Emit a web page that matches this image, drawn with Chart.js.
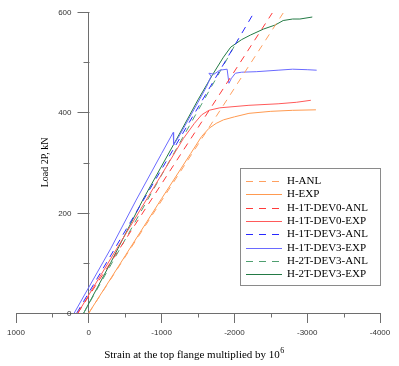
<!DOCTYPE html>
<html>
<head>
<meta charset="utf-8">
<script src="https://cdn.jsdelivr.net/npm/chart.js@4"></script>
<style>
  html, body { margin: 0; padding: 0; background: #fff; }
  #chart { display: block; }
</style>
</head>
<body>
<canvas id="chart" width="399" height="366"></canvas>
<script>
// axis ticks
const xTicks = [1000, 0, -1000, -2000, -3000, -4000];
const xMinorTicks = [500, -500, -1500, -2500, -3500];
const yTicks = [0, 200, 400, 600];
const yMinorTicks = [100, 300, 500];

// series: strain (x 10^-6) and load (kN)
const hAnlStrain = [0, -2670];
const hAnlLoad = [0, 598];

const hExpStrain = [0, -500, -1000, -1400, -1550, -1650, -1750, -1850, -2000, -2200, -2500, -2800, -3120];
const hExpLoad = [0, 114, 228, 318, 352, 368, 378, 385, 391, 398, 402, 404, 405];

const dev0AnlStrain = [150, -2520];
const dev0AnlLoad = [0, 598];

const dev0ExpStrain = [150, -300, -800, -1300, -1450, -1550, -1650, -1800, -2200, -2600, -2850, -3050];
const dev0ExpLoad = [0, 108, 228, 348, 378, 395, 404, 409, 414, 417, 420, 424];

const dev3AnlStrain = [165, -2274];
const dev3AnlLoad = [0, 600];

const dev3ExpStrain = [200, -300, -650, -1000, -1160, -1165, -1250, -1500, -1620, -1680, -1650, -1720, -1800, -1900, -1925, -1960, -2014, -2100, -2300, -2600, -2800, -3000, -3130];
const dev3ExpLoad = [0, 128, 225, 318, 360, 335, 355, 420, 452, 472, 478, 476, 484, 486, 458, 468, 478, 480, 481, 484, 486, 485, 484];

const dev3tAnlStrain = [70, -2050];
const dev3tAnlLoad = [0, 545];

const dev3tExpStrain = [70, -300, -740, -1200, -1500, -1700, -1850, -1950, -2100, -2220, -2400, -2560, -2670, -2800, -2900, -3070];
const dev3tExpLoad = [0, 100, 225, 345, 425, 475, 510, 530, 545, 554, 566, 574, 583, 586, 586, 590];

const labels = ['H-ANL', 'H-EXP', 'H-1T-DEV0-ANL', 'H-1T-DEV0-EXP', 'H-1T-DEV3-ANL', 'H-1T-DEV3-EXP', 'H-2T-DEV3-ANL', 'H-2T-DEV3-EXP'];
const colors = ['#ffa060', '#ff9a50', '#ff3a3a', '#ff5a5a', '#2828ff', '#6a6aff', '#4f9f70', '#237a45'];

const axisColor = '#6e6e6e';
const serif = "'Liberation Serif', 'Times New Roman', serif";
const sans = "'Liberation Sans', Arial, sans-serif";

function pts(xs, ys) {
    return xs.map((v, i) => ({ x: v, y: ys[i] }));
}

const series = [
    [hAnlStrain, hAnlLoad, true],
    [hExpStrain, hExpLoad, false],
    [dev0AnlStrain, dev0AnlLoad, true],
    [dev0ExpStrain, dev0ExpLoad, false],
    [dev3AnlStrain, dev3AnlLoad, true],
    [dev3ExpStrain, dev3ExpLoad, false],
    [dev3tAnlStrain, dev3tAnlLoad, true],
    [dev3tExpStrain, dev3tExpLoad, false]
];

const datasets = series.map((s, i) => ({
    label: labels[i],
    data: pts(s[0], s[1]),
    borderColor: colors[i],
    borderWidth: 1,
    borderDash: s[2] ? [7, 6] : [],
    pointRadius: 0,
    fill: false,
    tension: 0
}));

// y axis ticks/labels/title, x minor ticks + title, legend box
const extras = {
    id: 'extras',
    afterDraw(chart) {
        const ctx = chart.ctx;
        const xs = chart.scales.x, ys = chart.scales.y;
        const x0 = Math.round(xs.getPixelForValue(0)) + 0.5;
        const y0 = Math.round(ys.getPixelForValue(0)) + 0.5;
        ctx.save();
        ctx.strokeStyle = axisColor;
        ctx.lineWidth = 1;
        xMinorTicks.forEach(v => {
            const px = Math.round(xs.getPixelForValue(v)) + 0.5;
            ctx.beginPath();
            ctx.moveTo(px, y0);
            ctx.lineTo(px, y0 + 4);
            ctx.stroke();
        });
        yMinorTicks.forEach(v => {
            const py = Math.round(ys.getPixelForValue(v)) + 0.5;
            ctx.beginPath();
            ctx.moveTo(x0, py);
            ctx.lineTo(x0 - 6, py);
            ctx.stroke();
        });
        ctx.font = '8px ' + sans;
        ctx.fillStyle = '#333';
        ctx.textAlign = 'right';
        ctx.textBaseline = 'middle';
        yTicks.forEach(v => {
            const py = Math.round(ys.getPixelForValue(v)) + 0.5;
            ctx.beginPath();
            ctx.moveTo(x0, py);
            ctx.lineTo(x0 - 12, py);
            ctx.stroke();
            ctx.fillText(String(v), x0 - 18, py);
        });

        // y title
        ctx.save();
        ctx.translate(45, (ys.top + ys.bottom) / 2);
        ctx.rotate(-Math.PI / 2);
        ctx.font = '10px ' + serif;
        ctx.fillStyle = '#000';
        ctx.textAlign = 'center';
        ctx.fillText('Load 2P, kN', 0, 0);
        ctx.restore();

        // x title with superscript exponent
        const base = 'Strain at the top flange multiplied by 10';
        const sup = '6';
        ctx.font = '11px ' + serif;
        const bw = ctx.measureText(base).width;
        ctx.font = '8px ' + serif;
        const sw = ctx.measureText(sup).width;
        const tx = (xs.left + xs.right) / 2 - 4 - (bw + sw) / 2;
        ctx.textAlign = 'left';
        ctx.textBaseline = 'alphabetic';
        ctx.fillStyle = '#000';
        ctx.font = '11px ' + serif;
        ctx.fillText(base, tx, 358);
        ctx.font = '8px ' + serif;
        ctx.fillText(sup, tx + bw + 0.5, 353);

        // legend
        const lx = 240.5, ly = 168.5, lw = 140, lh = 117;
        ctx.fillStyle = '#fff';
        ctx.fillRect(lx, ly, lw, lh);
        ctx.strokeStyle = '#8a8a8a';
        ctx.strokeRect(lx, ly, lw, lh);
        ctx.font = '11px ' + serif;
        ctx.textBaseline = 'middle';
        ctx.textAlign = 'left';
        chart.data.datasets.forEach((ds, i) => {
            const y = Math.round(181 + i * 13.3) + 0.5;
            ctx.strokeStyle = ds.borderColor;
            ctx.setLineDash(ds.borderDash);
            ctx.beginPath();
            ctx.moveTo(246, y);
            ctx.lineTo(282, y);
            ctx.stroke();
            ctx.setLineDash([]);
            ctx.fillStyle = '#000';
            ctx.fillText(ds.label, 287, y);
        });
        ctx.restore();
    }
};

new Chart(document.getElementById('chart'), {
    type: 'line',
    data: { datasets: datasets },
    plugins: [extras],
    options: {
        responsive: false,
        animation: false,
        layout: { padding: { left: 16, right: 19, top: 12, bottom: 0 } },
        plugins: {
            legend: { display: false },
            tooltip: { enabled: false }
        },
        scales: {
            x: {
                type: 'linear',
                position: 'bottom',
                min: -4000,
                max: 1000,
                reverse: true,
                afterBuildTicks: s => { s.ticks = xTicks.map(v => ({ value: v })); },
                afterFit: s => { s.height = 53; },
                ticks: {
                    color: '#333',
                    font: { family: sans, size: 8 },
                    padding: 5,
                    maxRotation: 0,
                    callback: v => String(v)
                },
                grid: { drawOnChartArea: false, tickLength: 10, tickColor: axisColor },
                border: { color: axisColor },
                title: { display: false }
            },
            y: {
                type: 'linear',
                position: { x: 0 },
                min: 0,
                max: 600,
                afterBuildTicks: s => { s.ticks = yTicks.map(v => ({ value: v })); },
                ticks: { display: false },
                grid: { display: false },
                border: { display: true, color: axisColor },
                title: { display: false }
            }
        }
    }
});
</script>
</body>
</html>
